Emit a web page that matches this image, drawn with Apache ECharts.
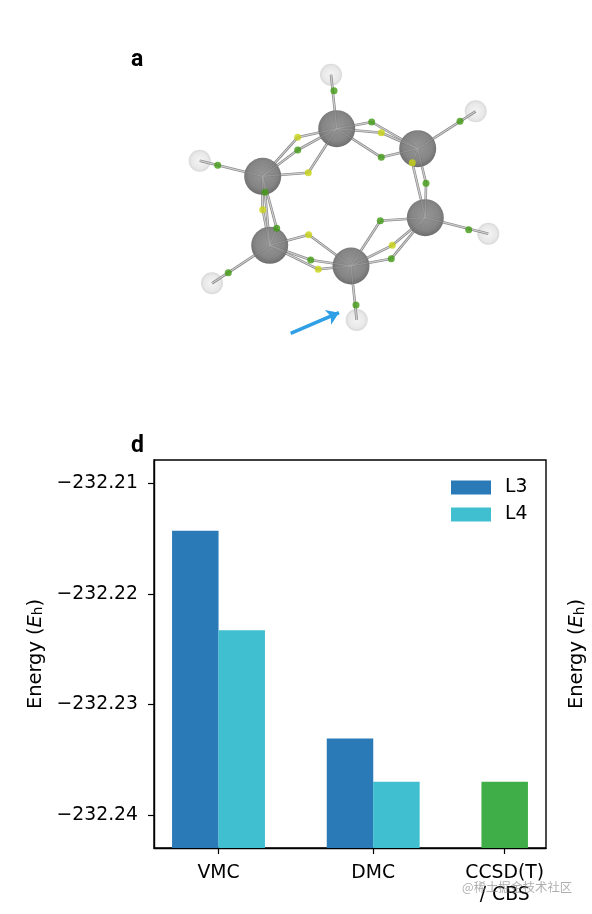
<!DOCTYPE html>
<html>
    <head>
        <meta charset="utf-8">
        <title>Energy chart</title>
        <script src="https://cdn.jsdelivr.net/npm/echarts@6/dist/echarts.min.js"></script>
        <style>
            html, body { margin: 0; padding: 0; background: #fff; }
        </style>
    </head>
    <body>
        <div id="chart1" style="width: 592px;height: 914px;"></div>
        <script>
            // panel d
            var tickPos = [0, 1, 1.85];
            var tickNames = ['VMC', 'DMC', 'CCSD(T)\n/ CBS'];
            var yTicks = [-232.24, -232.23, -232.22, -232.21];
            var l3 = [[-0.15, -232.2143], [0.85, -232.2331]];
            var l4 = [[0.15, -232.2233], [1.15, -232.2370]];
            var ccsd = [[1.85, -232.2370]];
            var yMin = -232.2430, yMax = -232.2079;

            // panel a in page pixels
            var carbon = [[336.7, 128.7], [417.7, 148.7], [425.3, 217.7], [351, 266], [269.7, 245.3], [262.7, 176.3]];
            var hydrogen = [[331, 74.7], [475.7, 111.3], [488.3, 233.7], [356.7, 320], [212, 283.3], [199.7, 160.7]];
            var greenCH = [[334, 90.7], [460, 121.3], [468.7, 229.7], [356, 305], [228.3, 272.7], [217.7, 165.3]];
            var greenCC = [[371.7, 122], [381.3, 157.3], [426, 183.3], [380.3, 220.7], [391.3, 258.7], [310.7, 260], [276.7, 228.3], [265, 192.3], [297.7, 150]];
            var yellowCC = [[297.7, 137.3], [308.3, 172.7], [381.3, 132.7], [412.3, 162.7], [262.7, 209.7], [308.7, 234.7], [318.3, 269.3], [392.3, 245.3]];
            var arrow = [[290.7, 333.3], [339, 312.7]];

            // which ring points each carbon is bonded to
            var greenBonds = [[0, 8, 0, 1], [1, 0, 1, 2], [2, 2, 3, 4], [3, 3, 4, 5], [4, 5, 6, 7], [5, 7, 6, 8]];
            var yellowBonds = [[0, 0, 1, 2], [1, 2, 3], [2, 3, 7], [3, 7, 5, 6], [4, 5, 6, 4], [5, 4, 0, 1]];

            var bondLines = [];
            carbon.forEach(function (c, i) {
                bondLines.push({coords: [c, hydrogen[i]]});
            });
            greenBonds.forEach(function (b) {
                b.slice(1).forEach(function (k) {
                    bondLines.push({coords: [carbon[b[0]], greenCC[k]]});
                });
            });
            yellowBonds.forEach(function (b) {
                b.slice(1).forEach(function (k) {
                    bondLines.push({coords: [carbon[b[0]], yellowCC[k]]});
                });
            });

            // bars grow from 0 in echarts, so the y axis runs in energy above yMin
            function fromBase(p) {
                return [p[0], p[1] - yMin];
            }
            var yTicksBase = yTicks.map(function (v) { return v - yMin; });

            function yLabel(v) {
                return (v + yMin).toFixed(2).replace('-', '\u2212');
            }
            function xLabel(v) {
                return tickNames[tickPos.indexOf(v)];
            }
            var axisFont = 'DejaVu Sans';
            var energyName = '{n|Energy (}{i|E}{s|h}{n|)}';
            var energyRich = {
                n: {fontFamily: axisFont, fontSize: 19.4, color: '#000'},
                i: {fontFamily: axisFont, fontSize: 19.4, fontStyle: 'italic', color: '#000'},
                s: {fontFamily: axisFont, fontSize: 13.5, color: '#000', verticalAlign: 'bottom', padding: [6, 0, 0, 0]}
            };
            var hiddenAxis = {show: false, type: 'value'};
            var panelLetter = {fontFamily: 'Roboto', fontWeight: 'bold', fontSize: 23, color: '#000'};

            var option = {
                animation: false,
                backgroundColor: '#fff',
                title: [
                    {text: 'a', left: 131, top: 49, padding: 0, textStyle: panelLetter},
                    {text: 'd', left: 131, top: 435, padding: 0, textStyle: panelLetter}
                ],
                legend: {
                    data: [
                        {name: 'L3', itemStyle: {borderRadius: 0}},
                        {name: 'L4', itemStyle: {borderRadius: 0}}
                    ],
                    icon: 'rect',
                    left: 451,
                    top: 478,
                    orient: 'vertical',
                    itemWidth: 40,
                    itemHeight: 14,
                    itemGap: 8,
                    padding: 0,
                    textStyle: {fontFamily: axisFont, fontSize: 18.8, color: '#000', padding: [0, 0, 0, 9]}
                },
                grid: [
                    {left: 154, top: 460, width: 392, height: 388, show: true, borderColor: '#000', borderWidth: 1.4, outerBoundsMode: 'none'},
                    {left: 0, top: 0, width: 592, height: 430, outerBoundsMode: 'none'}
                ],
                xAxis: [
                    {
                        type: 'value',
                        gridIndex: 0,
                        min: -0.417,
                        max: 2.117,
                        splitLine: {show: false},
                        axisLine: {show: true, onZero: false, lineStyle: {color: '#000', width: 1.4}},
                        axisTick: {length: 6, lineStyle: {color: '#000', width: 1.2}, customValues: tickPos},
                        axisLabel: {
                            customValues: tickPos,
                            formatter: xLabel,
                            fontFamily: axisFont,
                            fontSize: 18.8,
                            lineHeight: 22,
                            color: '#000',
                            margin: 14,
                            verticalAlign: 'top'
                        }
                    },
                    Object.assign({gridIndex: 1, min: 0, max: 592}, hiddenAxis)
                ],
                yAxis: [
                    {
                        type: 'value',
                        gridIndex: 0,
                        min: 0,
                        max: yMax - yMin,
                        name: energyName,
                        nameLocation: 'middle',
                        nameGap: 108,
                        nameRotate: 90,
                        nameTextStyle: {rich: energyRich},
                        splitLine: {show: false},
                        axisLine: {show: true, onZero: false, lineStyle: {color: '#000', width: 1.4}},
                        axisTick: {length: 6, lineStyle: {color: '#000', width: 1.2}, customValues: yTicksBase},
                        axisLabel: {
                            customValues: yTicksBase,
                            formatter: yLabel,
                            fontFamily: axisFont,
                            fontSize: 18.8,
                            color: '#000',
                            margin: 16
                        }
                    },
                    {
                        type: 'value',
                        gridIndex: 0,
                        position: 'right',
                        min: 0,
                        max: yMax - yMin,
                        name: energyName,
                        nameLocation: 'middle',
                        nameGap: 21,
                        nameRotate: 90,
                        nameTextStyle: {rich: energyRich},
                        splitLine: {show: false},
                        axisLine: {show: false},
                        axisTick: {show: false},
                        axisLabel: {show: false}
                    },
                    Object.assign({gridIndex: 1, min: 0, max: 430, inverse: true}, hiddenAxis)
                ],
                series: [
                    {
                        name: 'L3', type: 'bar', data: l3.map(fromBase), barWidth: 46.5, barGap: '-100%',
                        itemStyle: {color: '#2a7ab8'}
                    },
                    {
                        name: 'L4', type: 'bar', data: l4.map(fromBase), barWidth: 46.5, barGap: '-100%',
                        itemStyle: {color: '#40bfd0'}
                    },
                    {
                        name: 'CCSD', type: 'bar', data: ccsd.map(fromBase), barWidth: 46.5, barGap: '-100%',
                        itemStyle: {color: '#3fae49'}
                    },
                    {
                        type: 'lines', coordinateSystem: 'cartesian2d', xAxisIndex: 1, yAxisIndex: 2,
                        data: bondLines, silent: true, z: 3,
                        lineStyle: {color: '#8c8c8c', width: 2.6, opacity: 1}
                    },
                    {
                        type: 'lines', coordinateSystem: 'cartesian2d', xAxisIndex: 1, yAxisIndex: 2,
                        data: bondLines, silent: true, z: 4,
                        lineStyle: {color: '#e8e8e8', width: 0.9, opacity: 1}
                    },
                    {
                        type: 'scatter', xAxisIndex: 1, yAxisIndex: 2, data: hydrogen, symbolSize: 22, z: 2,
                        silent: true,
                        itemStyle: {
                            color: new echarts.graphic.RadialGradient(0.5, 0.5, 0.5, [
                                {offset: 0, color: '#f2f2f2'},
                                {offset: 0.75, color: '#e2e2e2'},
                                {offset: 1, color: '#cfcfcf'}
                            ])
                        }
                    },
                    {
                        type: 'scatter', xAxisIndex: 1, yAxisIndex: 2, data: carbon, symbolSize: 37, z: 5,
                        silent: true,
                        itemStyle: {
                            opacity: 0.93,
                            color: new echarts.graphic.RadialGradient(0.5, 0.45, 0.55, [
                                {offset: 0, color: '#8e8e8e'},
                                {offset: 0.7, color: '#7c7c7c'},
                                {offset: 1, color: '#636363'}
                            ])
                        }
                    },
                    {
                        type: 'lines', coordinateSystem: 'cartesian2d', xAxisIndex: 1, yAxisIndex: 2,
                        data: bondLines, silent: true, z: 6,
                        lineStyle: {color: '#b8b8b8', width: 0.7, opacity: 0.45}
                    },
                    {
                        type: 'scatter', xAxisIndex: 1, yAxisIndex: 2, data: greenCH.concat(greenCC), symbolSize: 7, z: 7,
                        silent: true, itemStyle: {color: '#419a14'}
                    },
                    {
                        type: 'scatter', xAxisIndex: 1, yAxisIndex: 2, data: yellowCC, symbolSize: 7, z: 7,
                        silent: true, itemStyle: {color: '#c8d414'}
                    },
                    {
                        type: 'lines', coordinateSystem: 'cartesian2d', xAxisIndex: 1, yAxisIndex: 2,
                        data: [{coords: arrow}], silent: true, z: 8,
                        symbol: ['none', 'arrow'], symbolSize: 12,
                        lineStyle: {color: '#2f9fe6', width: 3.5, opacity: 1}
                    }
                ],
                graphic: [
                    {type: 'text', left: 462, top: 881, silent: true, z: 20, style: {text: '@稀土掘金技术社区', fontFamily: 'Noto Sans CJK SC', fontSize: 12.3, fill: 'rgba(120,120,120,0.6)'}}
                ]
            };

            var Chart1 = echarts.init(document.getElementById('chart1'));
            Chart1.setOption(option);
        </script>
    </body>
</html>
